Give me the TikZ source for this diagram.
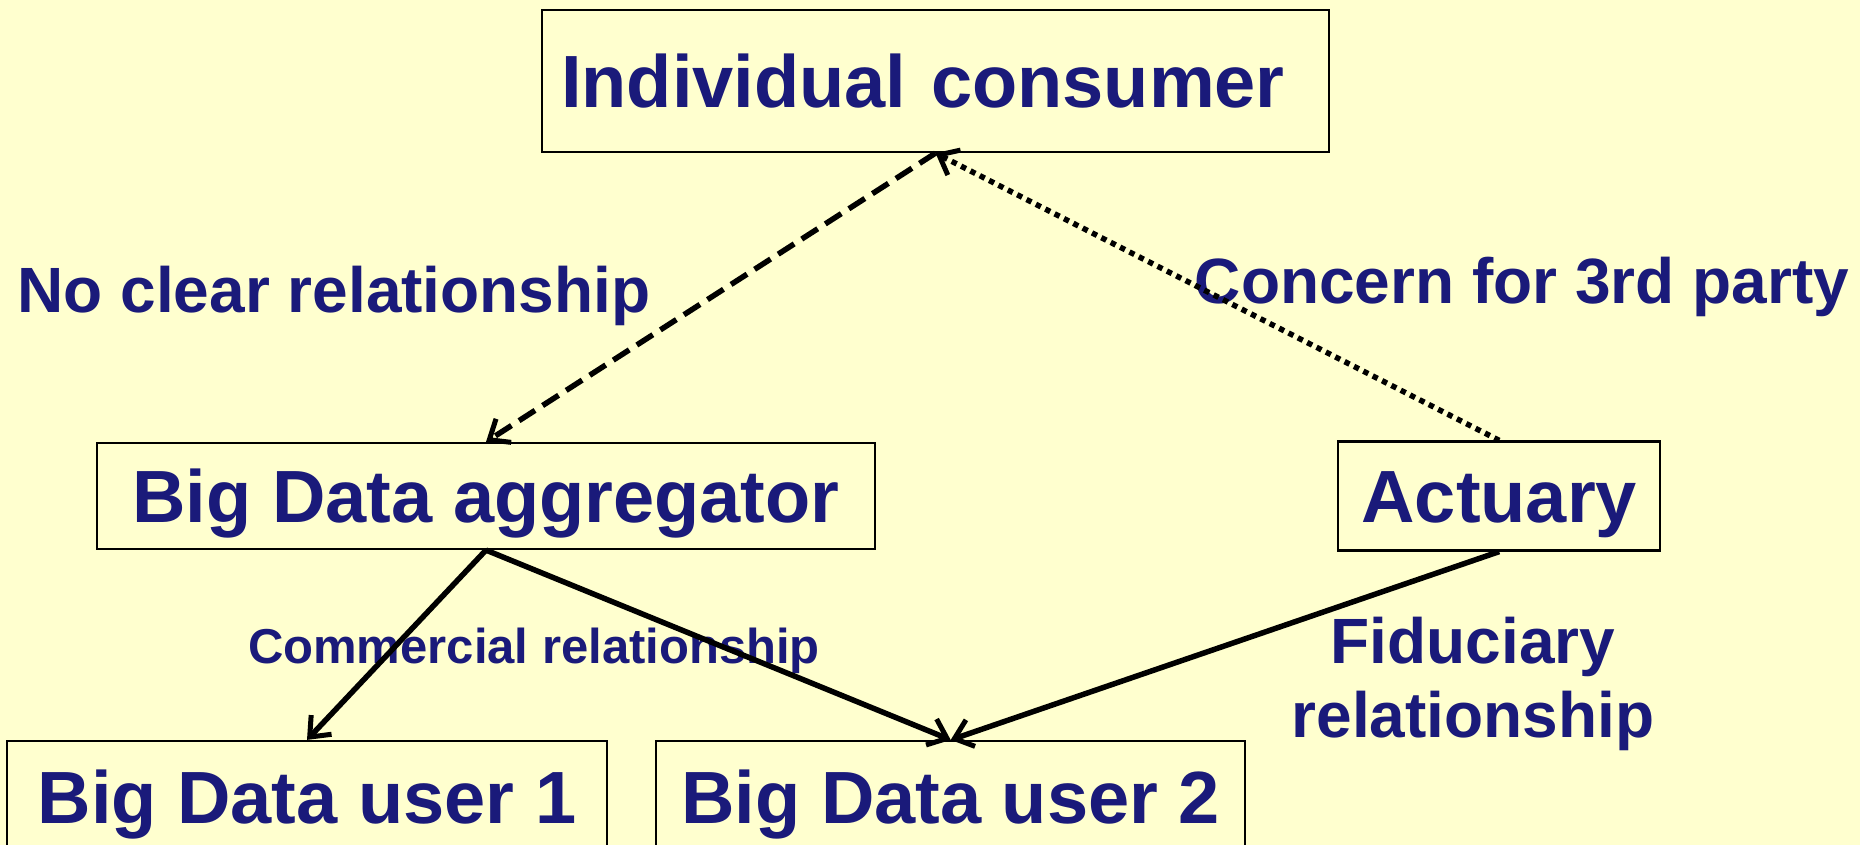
\documentclass[tikz,border=0pt]{standalone}
\usepackage{fontspec}
\setmainfont{Liberation Sans}
\usepackage{tikz}
\usetikzlibrary{arrows.meta, positioning}
\definecolor{PaleYellow}{HTML}{FFFFCF}
\definecolor{NavyText}{HTML}{1A1A7A}

\begin{document}
\begin{tikzpicture}[x=1pt, y=-1pt, >={Straight Barb[length=17pt, width=28pt, line width=5pt]}, every node/.style={font=\bfseries, text=NavyText}]
    \tikzstyle{box} = [rectangle, draw=black, fill=PaleYellow, line width=2.2pt, font=\fontsize{74pt}{74pt}\bfseries\selectfont, text height=53pt, text depth=0pt, inner sep=0pt]
    \tikzstyle{tag} = [anchor=base, font=\fontsize{64pt}{74pt}\bfseries\selectfont, align=center]
    \tikzstyle{small tag} = [anchor=base, font=\fontsize{49pt}{56pt}\bfseries\selectfont]
    \tikzstyle{line} = [draw, ->, line width=5.5pt, black]

    \fill [PaleYellow] (0,0) rectangle (1860,845);
    \useasboundingbox (0,0) rectangle (1860,845);

    \node [box, minimum width=787pt, minimum height=142pt, text width=749pt, align=left] (consumer) at (935.5,81) {Individual consumer};
    \node [box, minimum width=778pt, minimum height=106pt] (aggregator) at (486,496) {Big Data aggregator};
    \node [box, minimum width=322pt, minimum height=109pt, right=461pt of aggregator] (actuary) {Actuary};
    \node [box, minimum width=600pt, minimum height=112pt] (user1) at (307,797) {Big Data user 1};
    \node [box, minimum width=589pt, minimum height=112pt, right=47pt of user1] (user2) {Big Data user 2};

    \node [tag] (noclear) at (334,312) {No clear relationship};
    \node [tag] (concern) at (1522,303) {Concern for 3rd party};
    \node [small tag] (commercial) at (534,663) {Commercial relationship};
    \node [tag] (fiduciary) at (1473,737) {Fiduciary\\relationship};

    \path [line, dash pattern=on 19pt off 9pt] (consumer.south) -- (aggregator.north);
    \path [line, dash pattern=on 5.5pt off 5pt] (actuary.north) -- (consumer.south);
    \path [line] (aggregator.south) -- (user1.north);
    \path [line] (aggregator.south) -- (user2.north);
    \path [line] (actuary.south) -- (user2.north);
\end{tikzpicture}
\end{document}
